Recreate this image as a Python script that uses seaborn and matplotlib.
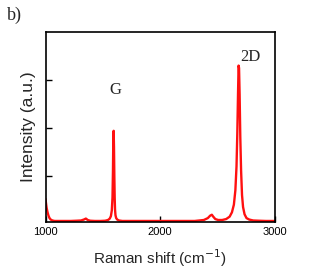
import matplotlib
matplotlib.use("Agg")
import matplotlib.pyplot as plt
import seaborn as sns
import pandas as pd

# Raman spectrum
shift = [1000, 1005, 1010, 1018, 1026, 1035, 1045, 1060, 1080, 1120, 1170, 1220, 1270, 1310,
         1335, 1352, 1368, 1390, 1430, 1480, 1520, 1545, 1560, 1570, 1578, 1584, 1588, 1591,
         1594, 1597, 1600, 1603, 1606, 1610, 1616, 1625, 1640, 1670, 1720, 1800, 1900, 2000,
         2100, 2200, 2300, 2380, 2415, 2435, 2450, 2462, 2480, 2505, 2540, 2575, 2605, 2625,
         2642, 2655, 2665, 2672, 2678, 2683, 2687, 2692, 2698, 2705, 2713, 2722, 2735, 2752,
         2775, 2810, 2860, 2920, 3000]
intensity = [0.52, 0.42, 0.33, 0.24, 0.17, 0.12, 0.09, 0.07, 0.06, 0.06, 0.06, 0.06, 0.065, 0.07,
             0.09, 0.11, 0.08, 0.065, 0.06, 0.06, 0.065, 0.08, 0.11, 0.16, 0.28, 0.55, 1.10, 1.75,
             1.94, 1.60, 1.00, 0.55, 0.30, 0.18, 0.12, 0.09, 0.07, 0.06, 0.06, 0.06, 0.06, 0.06,
             0.06, 0.06, 0.06, 0.08, 0.12, 0.17, 0.19, 0.15, 0.10, 0.08, 0.08, 0.10, 0.15, 0.24,
             0.40, 0.70, 1.20, 1.90, 2.70, 3.30, 3.25, 2.70, 1.80, 1.10, 0.60, 0.35, 0.20, 0.12,
             0.09, 0.07, 0.065, 0.06, 0.06]
xticks = [1000, 2000, 3000]
yticks = [1, 2, 3]

df = pd.DataFrame({"shift": shift, "intensity": intensity})

sns.set_style("ticks")
plt.rcParams["font.family"] = ["Liberation Sans", "DejaVu Sans"]

fig = plt.figure(figsize=(3.25, 2.69), dpi=100)
ax = fig.add_axes([0.14, 0.175, 0.706, 0.706])
sns.lineplot(data=df, x="shift", y="intensity", color="#ff1010", linewidth=1.7, ax=ax)

ax.set_xlim(1000, 3000)
ax.set_ylim(0.04, 4.0)
ax.set_xticks(xticks)
ax.set_xticklabels([str(t) for t in xticks], fontsize=8)
ax.set_yticks(yticks)
ax.set_yticklabels([])
ax.tick_params(direction="in", length=4, width=1, colors="black", pad=4)
for s in ax.spines.values():
    s.set_visible(True)
    s.set_linewidth(1.2)
    s.set_color("black")

ax.set_xlabel("Raman shift (cm$^{-1}$)", fontsize=11, labelpad=7)
ax.set_ylabel("Intensity (a.u.)", fontsize=12.5, labelpad=3)

ax.text(1607, 2.79, "G", fontsize=12, family="Liberation Serif", ha="center", va="center")
ax.text(2782, 3.48, "2D", fontsize=12, family="Liberation Serif", ha="center", va="center")
fig.text(0.046, 0.944, "b)", fontsize=13, family="Liberation Serif", ha="center", va="center")

fig.savefig("out.png", dpi=100)
